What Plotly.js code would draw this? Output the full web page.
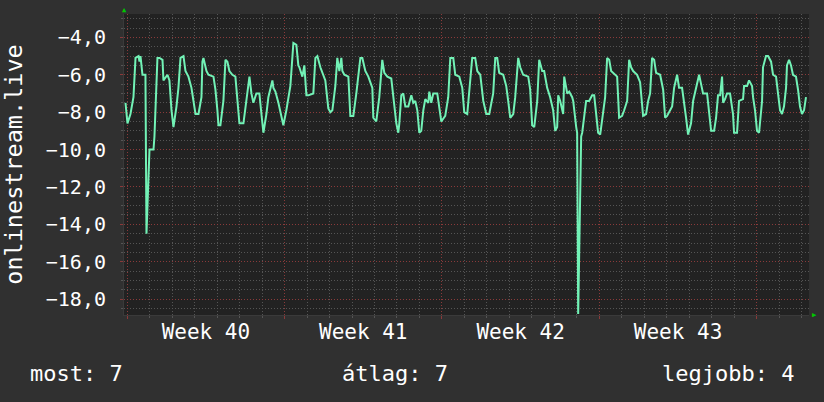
<!DOCTYPE html>
<html>
<head>
<meta charset="utf-8">
<script src="https://cdn.plot.ly/plotly-3.0.1.min.js"></script>
<style>
html,body{margin:0;padding:0;background:#303030;}
#chart{width:824px;height:402px;}
</style>
</head>
<body>
<div id="chart"></div>
<script>
// hours since the start of Week 40 (Monday 2014-09-29 00:00)
const hours = [-1.8,0.3,3.5,6.7,8.9,12.1,13.1,14.2,16.3,19.5,20.6,22.7,23.8,28.1,29.1,32.3,34.5,37.7,38.7,43.0,45.1,47.3,49.4,52.6,54.7,56.9,60.1,62.2,65.4,68.6,70.7,72.9,76.1,79.3,80.3,81.4,84.6,86.7,92.1,94.2,96.3,97.4,99.5,102.7,104.9,107.0,109.1,112.3,115.5,117.7,119.8,124.1,128.3,130.5,132.6,134.7,137.9,141.1,143.3,145.4,148.6,150.7,155.0,156.1,158.2,161.4,166.7,169.9,174.2,177.4,180.6,182.7,183.8,187.0,189.1,191.3,193.4,198.7,200.9,203.0,206.2,209.4,211.5,214.7,216.9,219.0,222.2,224.3,226.5,228.6,229.7,231.8,236.1,238.2,241.4,244.6,246.7,248.9,251.0,254.2,257.4,261.7,262.7,265.9,269.1,272.3,274.5,277.7,281.9,284.1,287.3,289.4,290.5,292.6,294.7,296.9,300.1,303.3,305.4,307.5,309.7,311.8,313.9,316.1,318.2,321.4,322.5,324.6,326.7,331.0,333.1,335.3,339.5,342.7,344.9,348.1,350.2,354.5,357.7,359.8,363.0,365.1,368.3,371.5,373.7,376.9,380.1,383.3,386.5,390.7,392.9,395.0,397.1,401.4,404.6,406.7,408.9,412.1,414.2,417.4,419.5,422.7,428.1,430.2,432.3,434.5,437.7,439.8,443.0,445.1,448.3,451.5,454.7,456.9,459.0,460.1,462.2,465.4,466.5,469.7,471.8,475.0,476.1,479.3,480.3,481.4,483.5,484.6,485.7,487.8,489.9,493.1,496.3,498.5,500.6,502.7,504.9,508.1,510.2,512.3,514.5,516.6,518.7,523.0,525.1,528.3,530.5,533.7,535.8,537.9,540.1,544.3,547.5,550.7,553.9,556.1,558.2,560.3,562.5,564.6,568.9,572.1,574.2,576.3,581.7,583.8,587.0,589.1,592.3,594.5,596.6,598.7,601.9,604.1,608.3,610.5,612.6,614.7,619.0,621.1,623.3,626.5,628.6,630.7,632.9,635.0,636.1,638.2,640.3,643.5,646.7,647.8,651.0,653.1,657.4,658.5,661.7,663.8,667.0,668.1,670.2,672.3,674.5,677.7,678.7,681.9,684.1,687.3,689.4,692.6,694.7,696.9,699.0,701.1,703.3,704.3,706.5,708.6,710.7,713.9,716.1,718.2,720.3,722.5,724.6];
// rank of onlinestream.live (negated)
const rank = [-7.5,-8.6,-8.1,-7.2,-5.1,-5.0,-5.3,-5.0,-6.0,-6.0,-14.5,-10.7,-10.0,-10.0,-9.3,-5.1,-5.1,-5.2,-6.3,-6.0,-6.3,-7.9,-8.8,-7.7,-6.7,-5.1,-5.0,-5.8,-6.1,-6.7,-7.5,-8.1,-8.1,-7.2,-5.3,-5.1,-5.8,-6.0,-6.1,-6.8,-7.9,-8.7,-8.7,-7.4,-5.2,-5.3,-5.8,-6.0,-6.1,-7.4,-8.6,-8.6,-7.0,-6.1,-7.0,-7.5,-7.0,-7.0,-8.1,-9.1,-8.1,-7.2,-6.3,-6.7,-6.9,-7.5,-8.7,-7.9,-6.6,-4.3,-4.4,-5.5,-5.6,-6.1,-5.5,-7.1,-7.1,-7.0,-5.1,-5.0,-5.6,-6.0,-6.3,-7.8,-8.0,-7.9,-6.6,-5.1,-5.8,-5.1,-5.8,-6.0,-6.1,-8.2,-8.2,-7.0,-5.9,-5.1,-5.1,-5.8,-6.1,-6.7,-8.3,-8.5,-7.2,-5.2,-5.9,-6.1,-6.2,-7.1,-8.6,-9.1,-8.6,-7.1,-7.0,-7.7,-7.7,-7.1,-7.5,-7.4,-7.9,-9.1,-9.0,-7.9,-7.3,-7.5,-6.9,-7.5,-7.0,-7.0,-7.9,-8.5,-8.2,-7.2,-5.1,-5.1,-6.0,-6.1,-6.7,-8.0,-8.1,-6.8,-5.1,-5.1,-5.8,-6.0,-7.4,-8.1,-8.1,-7.0,-5.1,-5.1,-5.9,-6.0,-6.6,-7.4,-8.3,-8.1,-7.2,-5.1,-5.6,-6.0,-6.1,-6.8,-8.7,-8.8,-7.4,-5.2,-5.8,-5.8,-6.7,-7.2,-7.9,-9.0,-8.8,-7.1,-7.4,-8.1,-6.1,-7.0,-6.9,-7.2,-7.4,-8.8,-9.1,-18.8,-11.5,-9.3,-9.1,-8.1,-7.4,-7.4,-7.1,-7.1,-8.1,-9.1,-9.2,-8.1,-7.2,-5.1,-5.2,-5.8,-5.9,-6.1,-8.3,-8.2,-7.9,-7.4,-5.2,-5.6,-5.8,-6.0,-6.4,-8.2,-8.1,-7.4,-7.0,-5.1,-5.2,-5.9,-6.0,-6.8,-8.3,-8.2,-7.7,-6.7,-6.0,-6.7,-6.7,-7.4,-8.3,-9.2,-8.6,-7.4,-6.5,-6.0,-6.5,-7.0,-7.0,-8.1,-9.0,-9.0,-8.3,-7.1,-7.1,-6.1,-7.5,-7.3,-7.0,-7.0,-8.1,-9.1,-9.1,-7.4,-7.3,-6.6,-6.6,-6.3,-6.6,-7.2,-7.9,-9.0,-9.1,-7.4,-5.6,-5.0,-5.0,-5.3,-6.0,-6.1,-7.0,-7.9,-8.1,-7.7,-6.7,-5.5,-5.2,-5.5,-6.0,-6.1,-6.8,-7.7,-8.1,-7.9,-7.2];

const weekTickFormat = 'Week %V';
const yTicks = [-18, -16, -14, -12, -10, -8, -6, -4];
const legendTexts = ['most: 7', 'átlag: 7', 'legjobb: 4'];

const START_MS = Date.UTC(2014, 8, 29);
const HOUR_MS = 3600000;
const toDate = h => new Date(START_MS + h * HOUR_MS).toISOString().slice(0, 19).replace('T', ' ');

const FONT = 'DejaVu Sans Mono, monospace';
const xRange = [toDate(-3.4), toDate(727.8)];
const yRange = [-18.85, -2.75];
const RED = '#8a3a3a';
const GRAY = '#555555';
const DOTS = '1px,2px';

const trace = {
  x: hours.map(toDate), y: rank, type: 'scatter', mode: 'lines',
  line: {color: '#72f2b6', width: 2},
  hoverinfo: 'skip'
};

const layout = {
  width: 824, height: 402,
  paper_bgcolor: '#303030', plot_bgcolor: '#222222',
  margin: {l: 124, r: 15, t: 14, b: 87},
  separators: ',.',
  showlegend: false,
  font: {family: FONT, color: '#ffffff', size: 20},
  xaxis: {
    type: 'date', range: xRange,
    tickmode: 'linear', tick0: toDate(0), dtick: 7 * 24 * HOUR_MS,
    tickformat: weekTickFormat, ticklabelmode: 'period',
    tickfont: {family: FONT, size: 21, color: '#ffffff'},
    ticklabelstandoff: -5,
    showgrid: true, gridcolor: RED, griddash: DOTS, gridwidth: 1,
    ticks: 'outside', ticklen: 3, tickcolor: RED,
    minor: {dtick: 24 * HOUR_MS, tick0: toDate(0), showgrid: true, gridcolor: GRAY, griddash: DOTS,
            ticks: 'outside', ticklen: 2, tickcolor: GRAY},
    showline: true, linecolor: '#3a3a3a', zeroline: false
  },
  yaxis: {
    range: yRange, tickmode: 'array', tickvals: yTicks, tickformat: '.1f',
    showgrid: true, gridcolor: RED, griddash: DOTS, gridwidth: 1,
    ticks: 'outside', ticklen: 3, tickcolor: RED,
    minor: {dtick: 0.5, tick0: 0, showgrid: true, gridcolor: GRAY, griddash: DOTS,
            ticks: 'outside', ticklen: 2, tickcolor: GRAY},
    tickfont: {family: FONT, size: 20, color: '#ffffff'},
    ticklabelstandoff: 10,
    showline: true, linecolor: '#3a3a3a', zeroline: false,
    title: {text: 'onlinestream.live', font: {family: FONT, size: 23.5, color: '#ffffff'}, standoff: 19}
  },
  annotations: [
    {text: legendTexts[0], xref: 'paper', yref: 'paper', x: -0.14, y: -0.193, xanchor: 'left', yanchor: 'middle', showarrow: false, font: {family: FONT, size: 22, color: '#ffffff'}},
    {text: legendTexts[1], xref: 'paper', yref: 'paper', x: 0.315, y: -0.193, xanchor: 'left', yanchor: 'middle', showarrow: false, font: {family: FONT, size: 22, color: '#ffffff'}},
    {text: legendTexts[2], xref: 'paper', yref: 'paper', x: 0.782, y: -0.193, xanchor: 'left', yanchor: 'middle', showarrow: false, font: {family: FONT, size: 22, color: '#ffffff'}},
    {text: '▲', xref: 'paper', yref: 'paper', x: 0, y: 1, xanchor: 'center', yanchor: 'bottom', yshift: -2, showarrow: false, font: {size: 7, color: '#00c800'}},
    {text: '▶', xref: 'paper', yref: 'paper', x: 1, y: 0, xanchor: 'left', yanchor: 'middle', xshift: 1, showarrow: false, font: {size: 7, color: '#00c800'}}
  ]
};

Plotly.newPlot('chart', [trace], layout, {displayModeBar: false, staticPlot: true});
</script>
</body>
</html>
